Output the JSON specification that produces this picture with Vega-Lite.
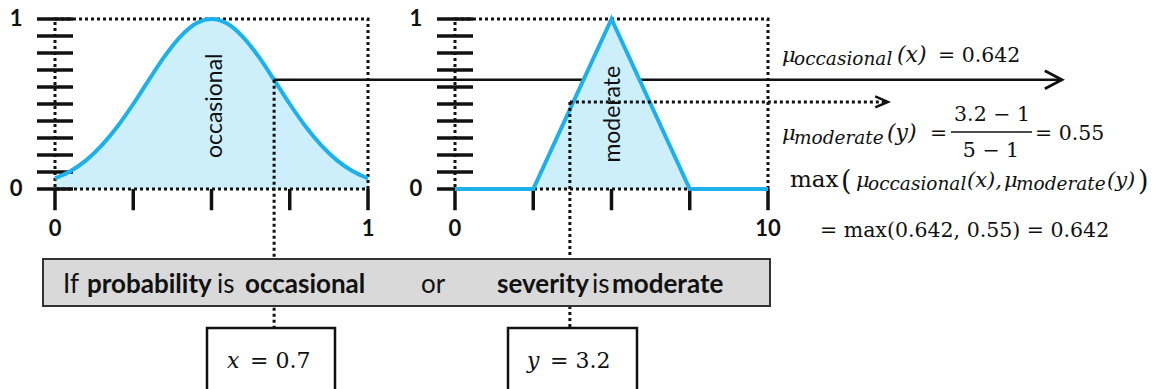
{
  "$schema": "https://vega.github.io/schema/vega-lite/v6.json",
  "width": 1156,
  "height": 389,
  "padding": 0,
  "autosize": {"type": "none"},
  "background": "white",
  "config": {"view": {"stroke": null}, "axis": {"disable": true}},
  "datasets": {
    "gauss": [
      {"u": 0, "mu": 0.063}, {"u": 0.05, "mu": 0.106}, {"u": 0.1, "mu": 0.17}, {"u": 0.15, "mu": 0.258},
      {"u": 0.2, "mu": 0.369}, {"u": 0.25, "mu": 0.5}, {"u": 0.3, "mu": 0.642}, {"u": 0.35, "mu": 0.78},
      {"u": 0.4, "mu": 0.895}, {"u": 0.45, "mu": 0.973}, {"u": 0.5, "mu": 1.0}, {"u": 0.55, "mu": 0.973},
      {"u": 0.6, "mu": 0.895}, {"u": 0.65, "mu": 0.78}, {"u": 0.7, "mu": 0.642}, {"u": 0.75, "mu": 0.5},
      {"u": 0.8, "mu": 0.369}, {"u": 0.85, "mu": 0.258}, {"u": 0.9, "mu": 0.17}, {"u": 0.95, "mu": 0.106},
      {"u": 1, "mu": 0.063}
    ],
    "tri": [{"v": 0, "mu": 0}, {"v": 2.5, "mu": 0}, {"v": 5, "mu": 1}, {"v": 7.5, "mu": 0}, {"v": 10, "mu": 0}],
    "muTicks": [{"mu": 0}, {"mu": 0.1}, {"mu": 0.2}, {"mu": 0.3}, {"mu": 0.4}, {"mu": 0.5}, {"mu": 0.6}, {"mu": 0.7}, {"mu": 0.8}, {"mu": 0.9}, {"mu": 1}],
    "uTicks": [{"u": 0}, {"u": 0.25}, {"u": 0.5}, {"u": 0.75}, {"u": 1}],
    "vTicks": [{"v": 0}, {"v": 2.5}, {"v": 5}, {"v": 7.5}, {"v": 10}],
    "yLabels": [{"mu": 0, "t": "0"}, {"mu": 1, "t": "1"}],
    "uLabels": [{"u": 0, "t": "0"}, {"u": 1, "t": "1"}],
    "vLabels": [{"v": 0, "t": "0"}, {"v": 10, "t": "10"}],
    "one": [{}]
  },
  "resolve": {"scale": {"x": "independent", "y": "independent"}},
  "layer": [
    {
      "layer": [
        {"data": {"name": "gauss"}, "mark": {"type": "area", "color": "#CDEFFB", "interpolate": "monotone"},
         "encoding": {
           "x": {"field": "u", "type": "quantitative", "scale": {"domain": [-0.17572, 3.51757], "nice": false, "zero": false}},
           "y": {"field": "mu", "type": "quantitative", "scale": {"domain": [-1.17647, 1.11176], "nice": false, "zero": false}},
           "y2": {"datum": 0}}},
        {"data": {"name": "one"}, "mark": {"type": "rect", "fillOpacity": 0, "stroke": "#111", "strokeWidth": 3, "strokeDash": [3, 3]},
         "encoding": {"x": {"datum": 0}, "x2": {"datum": 1}, "y": {"datum": 0}, "y2": {"datum": 1}}},
        {"data": {"name": "muTicks"}, "mark": {"type": "rule", "color": "#111", "strokeWidth": 3.5},
         "encoding": {"x": {"datum": -0.0575}, "x2": {"datum": 0.0575}, "y": {"field": "mu", "type": "quantitative"}}},
        {"data": {"name": "uTicks"}, "mark": {"type": "rule", "color": "#111", "strokeWidth": 3.5},
         "encoding": {"x": {"field": "u", "type": "quantitative"}, "y": {"datum": 0}, "y2": {"datum": -0.125}}},
        {"data": {"name": "gauss"}, "mark": {"type": "line", "color": "#1DB1EC", "strokeWidth": 4, "interpolate": "monotone"},
         "encoding": {"x": {"field": "u", "type": "quantitative"}, "y": {"field": "mu", "type": "quantitative"}}},
        {"data": {"name": "one"}, "mark": {"type": "rule", "color": "#111", "strokeWidth": 3, "strokeDash": [3, 3]},
         "encoding": {"x": {"datum": 0.7}, "y": {"datum": 0.642}, "y2": {"datum": -0.818}}},
        {"data": {"name": "one"}, "mark": {"type": "rule", "color": "#111", "strokeWidth": 2.5},
         "encoding": {"x": {"datum": 0.7}, "x2": {"datum": 3.215}, "y": {"datum": 0.642}}},
        {"data": {"name": "one"}, "mark": {"type": "point", "shape": "M-1.9,-1L0,0L-1.9,1", "filled": false, "stroke": "#111", "strokeWidth": 2.8, "size": 324, "opacity": 1, "strokeJoin": "miter"},
         "encoding": {"x": {"datum": 3.217}, "y": {"datum": 0.642}}},
        {"data": {"name": "yLabels"}, "mark": {"type": "text", "font": "Lato", "fontWeight": "bold", "fontSize": 22, "align": "center", "baseline": "middle", "color": "#111"},
         "encoding": {"x": {"datum": -0.1246}, "y": {"field": "mu", "type": "quantitative"}, "text": {"field": "t"}}},
        {"data": {"name": "uLabels"}, "mark": {"type": "text", "font": "Lato", "fontWeight": "bold", "fontSize": 22, "align": "center", "baseline": "middle", "color": "#111"},
         "encoding": {"x": {"field": "u", "type": "quantitative"}, "y": {"datum": -0.238}, "text": {"field": "t"}}},
        {"data": {"name": "one"}, "mark": {"type": "text", "text": "occasional", "font": "Lato", "fontSize": 23, "angle": 270, "align": "center", "baseline": "middle", "color": "#111"},
         "encoding": {"x": {"datum": 0.51}, "y": {"datum": 0.49}}}
      ]
    },
    {
      "layer": [
        {"data": {"name": "tri"}, "mark": {"type": "area", "color": "#CDEFFB"},
         "encoding": {
           "x": {"field": "v", "type": "quantitative", "scale": {"domain": [-14.5367, 22.3962], "nice": false, "zero": false}},
           "y": {"field": "mu", "type": "quantitative", "scale": {"domain": [-1.17647, 1.11176], "nice": false, "zero": false}},
           "y2": {"datum": 0}}},
        {"data": {"name": "one"}, "mark": {"type": "rect", "fillOpacity": 0, "stroke": "#111", "strokeWidth": 3, "strokeDash": [3, 3]},
         "encoding": {"x": {"datum": 0}, "x2": {"datum": 10}, "y": {"datum": 0}, "y2": {"datum": 1}}},
        {"data": {"name": "muTicks"}, "mark": {"type": "rule", "color": "#111", "strokeWidth": 3.5},
         "encoding": {"x": {"datum": -0.575}, "x2": {"datum": 0.575}, "y": {"field": "mu", "type": "quantitative"}}},
        {"data": {"name": "vTicks"}, "mark": {"type": "rule", "color": "#111", "strokeWidth": 3.5},
         "encoding": {"x": {"field": "v", "type": "quantitative"}, "y": {"datum": 0}, "y2": {"datum": -0.125}}},
        {"data": {"name": "tri"}, "mark": {"type": "line", "color": "#1DB1EC", "strokeWidth": 4, "strokeJoin": "miter"},
         "encoding": {"x": {"field": "v", "type": "quantitative"}, "y": {"field": "mu", "type": "quantitative"}}},
        {"data": {"name": "one"}, "mark": {"type": "rule", "color": "#111", "strokeWidth": 3, "strokeDash": [3, 3]},
         "encoding": {"x": {"datum": 3.67}, "y": {"datum": 0.512}, "y2": {"datum": -0.818}}},
        {"data": {"name": "one"}, "mark": {"type": "rule", "color": "#111", "strokeWidth": 3, "strokeDash": [3, 3]},
         "encoding": {"x": {"datum": 3.67}, "x2": {"datum": 13.8}, "y": {"datum": 0.512}}},
        {"data": {"name": "one"}, "mark": {"type": "point", "shape": "M-2.3,-1L0,0L-2.3,1", "filled": false, "stroke": "#111", "strokeWidth": 2.5, "size": 121, "opacity": 1, "strokeJoin": "miter"},
         "encoding": {"x": {"datum": 13.83}, "y": {"datum": 0.512}}},
        {"data": {"name": "yLabels"}, "mark": {"type": "text", "font": "Lato", "fontWeight": "bold", "fontSize": 22, "align": "center", "baseline": "middle", "color": "#111"},
         "encoding": {"x": {"datum": -1.246}, "y": {"field": "mu", "type": "quantitative"}, "text": {"field": "t"}}},
        {"data": {"name": "vLabels"}, "mark": {"type": "text", "font": "Lato", "fontWeight": "bold", "fontSize": 22, "align": "center", "baseline": "middle", "color": "#111"},
         "encoding": {"x": {"field": "v", "type": "quantitative"}, "y": {"datum": -0.238}, "text": {"field": "t"}}},
        {"data": {"name": "one"}, "mark": {"type": "text", "text": "moderate", "font": "Lato", "fontSize": 23, "angle": 270, "align": "center", "baseline": "middle", "color": "#111"},
         "encoding": {"x": {"datum": 5.05}, "y": {"datum": 0.44}}}
      ]
    },
    {
      "data": {"name": "one"},
      "layer": [
        {"mark": {"type": "rect", "fill": "#D9D9D9", "stroke": "#333333", "strokeWidth": 2},
         "encoding": {
           "x": {"datum": 43, "scale": {"domain": [0, 1156], "nice": false, "zero": false}},
           "x2": {"datum": 770},
           "y": {"datum": 259, "scale": {"domain": [0, 389], "reverse": true, "nice": false, "zero": false}},
           "y2": {"datum": 306}}},
        {"mark": {"type": "rect", "fill": "white", "stroke": "#111", "strokeWidth": 2.5},
         "encoding": {"x": {"datum": 207}, "x2": {"datum": 335}, "y": {"datum": 328}, "y2": {"datum": 398}}},
        {"mark": {"type": "rect", "fill": "white", "stroke": "#111", "strokeWidth": 2.5},
         "encoding": {"x": {"datum": 508}, "x2": {"datum": 637}, "y": {"datum": 328}, "y2": {"datum": 398}}},
        {"mark": {"type": "rule", "color": "#111", "strokeWidth": 1.3},
         "encoding": {"x": {"datum": 951}, "x2": {"datum": 1032}, "y": {"datum": 132}}},

        {"mark": {"type": "text", "text": "If", "font": "Lato", "fontSize": 26, "align": "left", "baseline": "alphabetic", "color": "#111"}, "encoding": {"x": {"datum": 63}, "y": {"datum": 293}}},
        {"mark": {"type": "text", "text": "probability", "font": "Lato", "fontWeight": "bold", "fontSize": 26, "align": "left", "baseline": "alphabetic", "color": "#111"}, "encoding": {"x": {"datum": 87}, "y": {"datum": 293}}},
        {"mark": {"type": "text", "text": "is", "font": "Lato", "fontSize": 26, "align": "left", "baseline": "alphabetic", "color": "#111"}, "encoding": {"x": {"datum": 217}, "y": {"datum": 293}}},
        {"mark": {"type": "text", "text": "occasional", "font": "Lato", "fontWeight": "bold", "fontSize": 26, "align": "left", "baseline": "alphabetic", "color": "#111"}, "encoding": {"x": {"datum": 245}, "y": {"datum": 293}}},
        {"mark": {"type": "text", "text": "or", "font": "Lato", "fontSize": 26, "align": "left", "baseline": "alphabetic", "color": "#111"}, "encoding": {"x": {"datum": 421}, "y": {"datum": 293}}},
        {"mark": {"type": "text", "text": "severity", "font": "Lato", "fontWeight": "bold", "fontSize": 26, "align": "left", "baseline": "alphabetic", "color": "#111"}, "encoding": {"x": {"datum": 497}, "y": {"datum": 293}}},
        {"mark": {"type": "text", "text": "is", "font": "Lato", "fontSize": 26, "align": "left", "baseline": "alphabetic", "color": "#111"}, "encoding": {"x": {"datum": 592}, "y": {"datum": 293}}},
        {"mark": {"type": "text", "text": "moderate", "font": "Lato", "fontWeight": "bold", "fontSize": 26, "align": "left", "baseline": "alphabetic", "color": "#111"}, "encoding": {"x": {"datum": 612}, "y": {"datum": 293}}},

        {"mark": {"type": "text", "text": "x", "font": "DejaVu Serif", "fontStyle": "italic", "fontSize": 22, "align": "left", "baseline": "alphabetic", "color": "#111"}, "encoding": {"x": {"datum": 227}, "y": {"datum": 368}}},
        {"mark": {"type": "text", "text": "= 0.7", "font": "DejaVu Serif", "fontSize": 22, "align": "left", "baseline": "alphabetic", "color": "#111"}, "encoding": {"x": {"datum": 250}, "y": {"datum": 368}}},
        {"mark": {"type": "text", "text": "y", "font": "DejaVu Serif", "fontStyle": "italic", "fontSize": 22, "align": "left", "baseline": "alphabetic", "color": "#111"}, "encoding": {"x": {"datum": 527}, "y": {"datum": 368}}},
        {"mark": {"type": "text", "text": "= 3.2", "font": "DejaVu Serif", "fontSize": 22, "align": "left", "baseline": "alphabetic", "color": "#111"}, "encoding": {"x": {"datum": 550}, "y": {"datum": 368}}},

        {"mark": {"type": "text", "text": "μ", "font": "DejaVu Serif", "fontStyle": "italic", "fontSize": 21, "align": "left", "baseline": "alphabetic", "color": "#111"}, "encoding": {"x": {"datum": 782}, "y": {"datum": 62}}},
        {"mark": {"type": "text", "text": "occasional", "font": "DejaVu Serif", "fontStyle": "italic", "fontSize": 18.5, "align": "left", "baseline": "alphabetic", "color": "#111"}, "encoding": {"x": {"datum": 794}, "y": {"datum": 65}}},
        {"mark": {"type": "text", "text": "(x)", "font": "DejaVu Serif", "fontStyle": "italic", "fontSize": 22, "align": "left", "baseline": "alphabetic", "color": "#111"}, "encoding": {"x": {"datum": 897}, "y": {"datum": 62}}},
        {"mark": {"type": "text", "text": "= 0.642", "font": "DejaVu Serif", "fontSize": 20.5, "align": "left", "baseline": "alphabetic", "color": "#111"}, "encoding": {"x": {"datum": 938}, "y": {"datum": 62}}},

        {"mark": {"type": "text", "text": "μ", "font": "DejaVu Serif", "fontStyle": "italic", "fontSize": 21, "align": "left", "baseline": "alphabetic", "color": "#111"}, "encoding": {"x": {"datum": 782}, "y": {"datum": 140}}},
        {"mark": {"type": "text", "text": "moderate", "font": "DejaVu Serif", "fontStyle": "italic", "fontSize": 18.5, "align": "left", "baseline": "alphabetic", "color": "#111"}, "encoding": {"x": {"datum": 794}, "y": {"datum": 144}}},
        {"mark": {"type": "text", "text": "(y)", "font": "DejaVu Serif", "fontStyle": "italic", "fontSize": 22, "align": "left", "baseline": "alphabetic", "color": "#111"}, "encoding": {"x": {"datum": 887}, "y": {"datum": 140}}},
        {"mark": {"type": "text", "text": "=", "font": "DejaVu Serif", "fontSize": 20.5, "align": "left", "baseline": "alphabetic", "color": "#111"}, "encoding": {"x": {"datum": 930}, "y": {"datum": 140}}},
        {"mark": {"type": "text", "text": "3.2 − 1", "font": "DejaVu Serif", "fontSize": 20.5, "align": "center", "baseline": "alphabetic", "color": "#111"}, "encoding": {"x": {"datum": 992}, "y": {"datum": 121}}},
        {"mark": {"type": "text", "text": "5 − 1", "font": "DejaVu Serif", "fontSize": 20.5, "align": "center", "baseline": "alphabetic", "color": "#111"}, "encoding": {"x": {"datum": 991}, "y": {"datum": 157}}},
        {"mark": {"type": "text", "text": "= 0.55", "font": "DejaVu Serif", "fontSize": 20.5, "align": "left", "baseline": "alphabetic", "color": "#111"}, "encoding": {"x": {"datum": 1035}, "y": {"datum": 140}}},

        {"mark": {"type": "text", "text": "max", "font": "DejaVu Serif", "fontSize": 23, "align": "left", "baseline": "alphabetic", "color": "#111"}, "encoding": {"x": {"datum": 790}, "y": {"datum": 187}}},
        {"mark": {"type": "text", "text": "(", "font": "DejaVu Serif", "fontSize": 27, "align": "left", "baseline": "alphabetic", "color": "#111"}, "encoding": {"x": {"datum": 841}, "y": {"datum": 190}}},
        {"mark": {"type": "text", "text": "μ", "font": "DejaVu Serif", "fontStyle": "italic", "fontSize": 21, "align": "left", "baseline": "alphabetic", "color": "#111"}, "encoding": {"x": {"datum": 856}, "y": {"datum": 187}}},
        {"mark": {"type": "text", "text": "occasional", "font": "DejaVu Serif", "fontStyle": "italic", "fontSize": 18.5, "align": "left", "baseline": "alphabetic", "color": "#111"}, "encoding": {"x": {"datum": 868}, "y": {"datum": 190}}},
        {"mark": {"type": "text", "text": "(x),", "font": "DejaVu Serif", "fontStyle": "italic", "fontSize": 21, "align": "left", "baseline": "alphabetic", "color": "#111"}, "encoding": {"x": {"datum": 967}, "y": {"datum": 187}}},
        {"mark": {"type": "text", "text": "μ", "font": "DejaVu Serif", "fontStyle": "italic", "fontSize": 21, "align": "left", "baseline": "alphabetic", "color": "#111"}, "encoding": {"x": {"datum": 1004}, "y": {"datum": 187}}},
        {"mark": {"type": "text", "text": "moderate", "font": "DejaVu Serif", "fontStyle": "italic", "fontSize": 18.5, "align": "left", "baseline": "alphabetic", "color": "#111"}, "encoding": {"x": {"datum": 1016}, "y": {"datum": 190}}},
        {"mark": {"type": "text", "text": "(y)", "font": "DejaVu Serif", "fontStyle": "italic", "fontSize": 21, "align": "left", "baseline": "alphabetic", "color": "#111"}, "encoding": {"x": {"datum": 1107}, "y": {"datum": 187}}},
        {"mark": {"type": "text", "text": ")", "font": "DejaVu Serif", "fontSize": 27, "align": "left", "baseline": "alphabetic", "color": "#111"}, "encoding": {"x": {"datum": 1138}, "y": {"datum": 190}}},

        {"mark": {"type": "text", "text": "= max(0.642, 0.55) = 0.642", "font": "DejaVu Serif", "fontSize": 20.5, "align": "left", "baseline": "alphabetic", "color": "#111"}, "encoding": {"x": {"datum": 820}, "y": {"datum": 237}}}
      ]
    }
  ]
}
